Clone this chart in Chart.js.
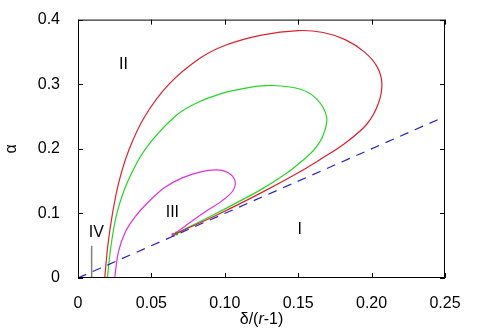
<!DOCTYPE html>
<html>
<head>
<meta charset="utf-8">
<script src="https://cdn.jsdelivr.net/npm/chart.js@4.4.1/dist/chart.umd.min.js"></script>
<style>
  html, body { margin: 0; padding: 0; background: #fff; }
  #wrap { width: 492px; height: 333px; }
</style>
</head>
<body>
<div id="wrap"><canvas id="myChart"></canvas></div>
<script>
// Tick values for both axes
const xTicks = [0, 0.05, 0.1, 0.15, 0.2, 0.25];
const yTicks = [0, 0.1, 0.2, 0.3, 0.4];

// Curves: [delta/(r-1), alpha]
const redCurve = [
  [0.0182, 0], [0.0203, 0.05], [0.0235, 0.10], [0.028, 0.15], [0.035, 0.20],
  [0.0455, 0.25], [0.062, 0.30], [0.083, 0.34], [0.100, 0.360], [0.125, 0.376],
  [0.150, 0.383], [0.167, 0.380], [0.182, 0.369], [0.195, 0.350], [0.2035, 0.328],
  [0.207, 0.302], [0.2046, 0.270], [0.1967, 0.238], [0.181, 0.207], [0.166, 0.185],
  [0.150, 0.163], [0.124, 0.131], [0.095, 0.098], [0.066, 0.068]
];
const greenCurve = [
  [0.020, 0], [0.0225, 0.05], [0.0265, 0.10], [0.034, 0.15], [0.046, 0.20],
  [0.066, 0.25], [0.080, 0.270], [0.097, 0.285], [0.117, 0.295], [0.133, 0.298],
  [0.151, 0.2925], [0.1626, 0.277], [0.1694, 0.249], [0.167, 0.221], [0.161, 0.199],
  [0.153, 0.182], [0.142, 0.162], [0.124, 0.136], [0.095, 0.101], [0.067, 0.069]
];
const magentaCurve = [
  [0.025, 0], [0.0275, 0.04], [0.032, 0.07], [0.039, 0.095], [0.049, 0.12],
  [0.059, 0.14], [0.071, 0.155], [0.083, 0.164], [0.094, 0.1675], [0.1024, 0.163],
  [0.107, 0.150], [0.1055, 0.135], [0.0979, 0.119], [0.0877, 0.104], [0.0763, 0.086],
  [0.065, 0.067]
];
const boundaryLine = [[0, 0], [0.25, 0.25]];
const grayMark = [[0.0093, 0], [0.0093, 0.05]];

// Region labels
const regionNames = ['I', 'II', 'III', 'IV'];
const regionX = [0.151, 0.031, 0.0643, 0.0125];
const regionY = [0.0748, 0.331, 0.101, 0.0708];

const FONT = '"Liberation Sans", Arial, sans-serif';

function toPoints(arr) {
  return arr.map(p => ({ x: p[0], y: p[1] }));
}

function lastDot(arr, r) {
  return arr.map((_, i) => (i === arr.length - 1 ? r : 0));
}

// Frame, inward ticks, region labels and x title
const decorations = {
  id: 'decorations',
  afterDraw(chart) {
    const ctx = chart.ctx;
    const a = chart.chartArea;
    const xs = chart.scales.x;
    const ys = chart.scales.y;
    ctx.save();
    ctx.strokeStyle = '#000';
    ctx.lineWidth = 1;
    ctx.strokeRect(a.left + 0.5, a.top + 0.5, a.right - a.left - 1, a.bottom - a.top - 1);
    ctx.beginPath();
    xTicks.forEach(v => {
      const px = Math.round(xs.getPixelForValue(v)) + 0.5;
      ctx.moveTo(px, a.bottom); ctx.lineTo(px, a.bottom - 5);
      ctx.moveTo(px, a.top); ctx.lineTo(px, a.top + 5);
    });
    yTicks.forEach(v => {
      const py = Math.round(ys.getPixelForValue(v)) + 0.5;
      ctx.moveTo(a.left, py); ctx.lineTo(a.left + 5, py);
      ctx.moveTo(a.right, py); ctx.lineTo(a.right - 5, py);
    });
    ctx.stroke();

    ctx.fillStyle = '#000';
    ctx.font = '16px ' + FONT;
    ctx.textAlign = 'center';
    ctx.textBaseline = 'middle';
    regionNames.forEach((n, i) => {
      ctx.fillText(n, xs.getPixelForValue(regionX[i]), ys.getPixelForValue(regionY[i]));
    });

    // x axis title with italic r
    const parts = [['δ/(', '16px ' + FONT], ['r', 'italic 16px ' + FONT], ['-1)', '16px ' + FONT]];
    let total = 0;
    parts.forEach(p => { ctx.font = p[1]; total += ctx.measureText(p[0]).width; });
    let x = (a.left + a.right) / 2 - total / 2;
    ctx.textAlign = 'left';
    parts.forEach(p => {
      ctx.font = p[1];
      ctx.fillText(p[0], x, 320);
      x += ctx.measureText(p[0]).width;
    });
    ctx.restore();
  }
};

const chartX = document.getElementById('myChart').getContext('2d');
const chart = new Chart(chartX, {
  type: 'scatter',
  data: {
    datasets: [
      {
        data: toPoints(boundaryLine), showLine: true, borderColor: '#2424c8',
        borderWidth: 1.2, borderDash: [9, 7], pointRadius: 0, tension: 0
      },
      {
        data: toPoints(grayMark), showLine: true, borderColor: '#808080',
        borderWidth: 1.5, pointRadius: 0, tension: 0
      },
      {
        data: toPoints(redCurve), showLine: true, borderColor: '#e0202c',
        borderWidth: 1.2, pointRadius: 0, tension: 0.35
      },
      {
        data: toPoints(greenCurve), showLine: true, borderColor: '#22d822',
        borderWidth: 1.2, pointRadius: lastDot(greenCurve, 2),
        pointBackgroundColor: '#22b822', pointBorderWidth: 0, tension: 0.35
      },
      {
        data: toPoints(magentaCurve), showLine: true, borderColor: '#e030e0',
        borderWidth: 1.2, pointRadius: lastDot(magentaCurve, 2),
        pointBackgroundColor: '#e030e0', pointBorderWidth: 0, tension: 0.35
      }
    ]
  },
  options: {
    responsive: true,
    maintainAspectRatio: false,
    animation: false,
    layout: { padding: { left: 0, top: 16, right: 47, bottom: 0 } },
    plugins: {
      legend: { display: false },
      tooltip: { enabled: false }
    },
    scales: {
      x: {
        type: 'linear', min: 0, max: 0.25,
        grid: { display: false },
        border: { display: false },
        afterBuildTicks: s => { s.ticks = xTicks.map(v => ({ value: v })); },
        afterFit: s => { s.height = 55; },
        ticks: { color: '#000', padding: 8, font: { family: FONT, size: 16 }, maxRotation: 0 }
      },
      y: {
        type: 'linear', min: 0, max: 0.4,
        grid: { display: false },
        border: { display: false },
        afterBuildTicks: s => { s.ticks = yTicks.map(v => ({ value: v })); },
        afterFit: s => { s.width = 78; },
        ticks: { color: '#000', padding: 10, font: { family: FONT, size: 16 } },
        title: {
          display: true, text: 'α', color: '#000',
          font: { family: FONT, size: 16 }, padding: { top: 2, bottom: 0 }
        }
      }
    }
  },
  plugins: [decorations]
});
</script>
</body>
</html>
